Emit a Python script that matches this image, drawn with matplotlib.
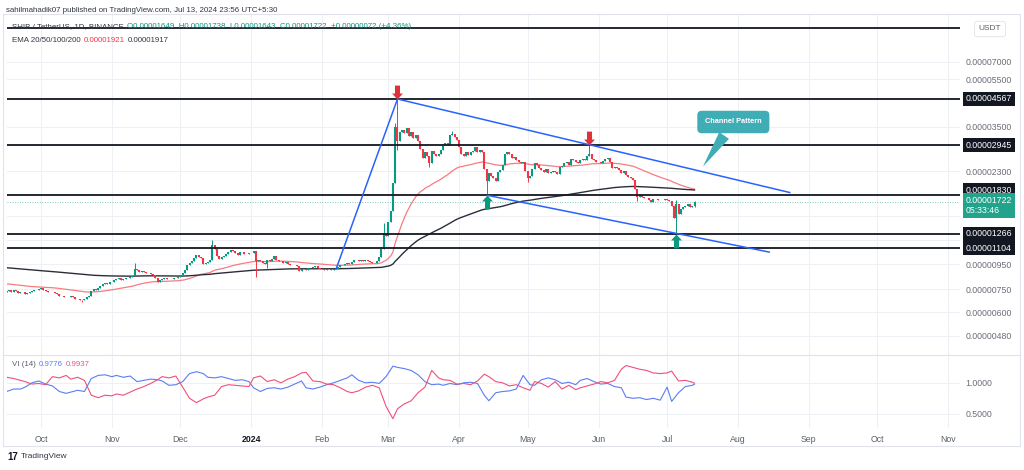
import numpy as np
import pandas as pd
import matplotlib
matplotlib.use("Agg")
import matplotlib.pyplot as plt
import matplotlib.dates as mdates
from matplotlib import transforms
from matplotlib.patches import Rectangle
from matplotlib.lines import Line2D
from matplotlib.path import Path
from matplotlib.text import Annotation
from matplotlib.ticker import FixedLocator, FixedFormatter, NullLocator

plt.rcParams['font.family'] = ['Liberation Sans', 'DejaVu Sans']

# ---------------- data (prices in millionths of USDT) ----------------
start_date = "2023-09-16"
first_open = 7.30
close_sep = [7.35, 7.40, 7.30, 7.42, 7.38, 7.25, 7.30, 7.28, 7.18, 7.25, 7.30, 7.38, 7.45, 7.42, 7.50]
close_oct = [7.55, 7.45, 7.35, 7.30, 7.28, 7.32, 7.25, 7.15, 7.05, 7.00, 6.95, 6.92, 6.98, 7.00, 6.93, 6.85,
             6.82, 6.78, 6.75, 6.85, 6.95, 7.05, 7.35, 7.50, 7.45, 7.60, 7.75, 7.85, 7.95, 7.90, 8.00]
close_nov = [8.05, 8.15, 8.25, 8.30, 8.20, 8.28, 8.35, 8.30, 8.40, 8.45, 9.10, 9.00, 8.85, 8.90, 8.80, 8.75,
             8.70, 8.65, 8.55, 8.30, 8.00, 8.20, 8.25, 8.30, 8.28, 8.22, 8.25, 8.30, 8.35, 8.40]
close_dec = [8.60, 8.75, 9.00, 9.40, 9.60, 9.75, 10.10, 10.40, 10.20, 10.05, 9.50, 9.60, 9.70, 9.85, 11.40, 11.00,
             10.30, 9.95, 10.20, 10.30, 10.50, 10.70, 10.85, 10.75, 10.60, 10.40, 10.70, 10.65, 10.50, 10.45, 10.55]
close_jan = [10.60, 10.75, 9.75, 9.85, 9.75, 9.60, 9.50, 9.90, 9.80, 9.95, 10.25, 9.90, 9.75, 9.80, 9.65, 9.70,
             9.55, 9.40, 9.45, 9.45, 9.35, 8.90, 9.05, 9.10, 9.00, 9.15, 9.20, 9.25, 9.30, 9.20, 9.10]
close_feb = [9.05, 9.00, 9.10, 9.05, 9.00, 9.05, 9.10, 9.25, 9.40, 9.45, 9.50, 9.60, 9.55, 9.70, 9.85, 9.90,
             9.80, 9.85, 9.75, 9.90, 9.80, 9.70, 9.65, 9.60, 9.75, 10.20, 11.00, 12.80, 12.40]
close_mar = [14.20, 15.80, 20.50, 35.00, 30.50, 33.50, 34.00, 33.00, 34.80, 32.00, 33.50, 31.50, 32.50, 30.50,
             28.50, 26.00, 27.50, 26.50, 24.80, 27.80, 27.20, 26.50, 27.00, 28.00, 29.50, 30.00, 29.50, 32.50,
             32.80, 31.80, 31.00]
close_apr = [29.00, 27.00, 26.50, 27.50, 26.80, 27.50, 27.80, 28.80, 27.50, 28.00, 27.50, 23.50, 21.00, 22.50,
             22.00, 21.50, 21.00, 22.80, 23.20, 24.50, 27.00, 27.50, 27.00, 26.00, 26.30, 25.50, 25.00, 24.80,
             25.00, 23.00]
close_may = [21.50, 22.00, 23.50, 24.80, 24.50, 23.60, 23.20, 22.80, 23.50, 22.60, 22.90, 23.00, 22.80, 22.30,
             24.00, 24.20, 24.80, 25.00, 24.40, 25.80, 25.50, 25.00, 24.80, 25.50, 25.80, 25.60, 26.50, 27.20,
             25.80, 25.50, 25.00]
close_jun = [25.00, 24.90, 25.40, 25.80, 26.00, 25.20, 23.80, 24.00, 23.80, 23.30, 22.50, 23.00, 22.20, 21.80,
             21.50, 21.20, 19.50, 18.00, 18.30, 18.00, 17.90, 17.80, 17.50, 17.20, 17.70, 17.60, 17.50, 17.40,
             17.50, 17.60]
close_jul = [17.40, 17.30, 16.50, 14.80, 16.80, 15.30, 16.00, 16.30, 16.50, 16.80, 16.40, 16.50, 17.22]
last_open = 16.49

wick_high = {"2023-11-11": 9.60, "2023-12-15": 12.00, "2024-02-28": 14.00, "2024-03-04": 36.20,
             "2024-03-05": 45.67, "2024-03-29": 33.60, "2024-05-28": 29.60, "2024-07-05": 17.40,
             "2024-07-13": 17.38}
wick_low = {"2023-10-19": 6.65, "2024-01-03": 8.40, "2024-01-08": 9.20, "2024-03-05": 28.00,
            "2024-03-19": 24.00, "2024-04-13": 18.30, "2024-05-01": 20.80, "2024-06-18": 17.30,
            "2024-07-05": 12.66, "2024-07-13": 16.43}

# EMA seeds (value of each EMA the day before the first candle)
ema50_seed, ema200_seed = 7.90, 9.20

# horizontal levels (millionths)
level_top = 89.7
levels = [45.67, 29.45, 18.30, 12.66, 11.04]
price_ticks = [65.0, 55.0, 35.0, 23.0, 15.0, 12.0, 9.5, 7.5, 6.0, 4.8]
price_tick_labels = ["0.00007000", "0.00005500", "0.00003500", "0.00002300", "", "",
                     "0.00000950", "0.00000750", "0.00000600", "0.00000480"]

# channel / trend lines: (date, price)
rise_line = [("2024-02-07", 9.00), ("2024-03-05", 45.67)]
upper_channel = [("2024-03-05", 45.67), ("2024-08-24", 18.74)]
lower_channel = [("2024-04-13", 18.30), ("2024-08-15", 10.64)]

# arrows
down_arrows = ["2024-03-05", "2024-05-28"]
up_arrows = ["2024-04-13", "2024-07-05"]

# Vortex indicator samples (day index from first candle)
vi_idx = [0, 3, 6, 8, 11, 14, 17, 20, 23, 26,
          28, 31, 34, 37, 40, 43, 46, 48, 51, 54,
          57, 60, 63, 66, 68, 71, 74, 77, 80, 83,
          86, 88, 91, 94, 97, 100, 103, 106, 108, 111,
          114, 117, 120, 123, 126, 129, 131, 134, 137, 140,
          143, 146, 149, 151, 154, 157, 160, 163, 166, 169,
          171, 174, 177, 180, 183, 186, 189, 191, 194, 197,
          200, 203, 206, 209, 211, 214, 217, 220, 223, 226,
          229, 231, 234, 237, 240, 243, 246, 249, 251, 254,
          257, 260, 263, 266, 269, 271, 274, 277, 280, 283,
          286, 289, 291, 294, 297, 300, 301]
vi_plus = [0.86, 0.90, 0.90, 0.93, 1.00, 1.03, 0.98, 0.95, 0.86, 0.83,
           0.85, 0.88, 0.86, 1.07, 1.12, 1.13, 1.10, 1.12, 1.09, 1.11,
           1.02, 1.04, 1.06, 1.05, 1.03, 0.96, 0.97, 1.02, 1.15, 1.18,
           1.15, 1.09, 1.08, 1.10, 1.07, 1.04, 1.05, 1.02, 0.92, 0.86,
           0.91, 0.92, 0.90, 0.93, 0.98, 1.03, 0.92, 0.90, 0.93, 0.97,
           1.00, 1.04, 1.08, 1.13, 1.04, 1.00, 1.01, 0.99, 1.10, 1.27,
           1.25, 1.23, 1.20, 1.13, 1.02, 0.97, 0.98, 0.96, 0.99, 0.97,
           1.00, 1.01, 0.99, 0.80, 0.71, 0.84, 0.86, 0.87, 0.90, 1.12,
           0.97, 0.96, 1.05, 1.08, 1.05, 0.99, 1.01, 0.97, 1.04, 1.07,
           1.02, 0.98, 0.99, 0.94, 0.92, 0.77, 0.75, 0.76, 0.73, 0.75,
           0.72, 0.93, 0.70, 0.84, 0.94, 0.96, 0.9776]
vi_minus = [1.09, 1.07, 1.04, 1.02, 0.98, 0.99, 0.97, 1.10, 1.08, 1.12,
            1.06, 1.09, 1.04, 0.80, 0.76, 0.80, 0.79, 0.82, 0.80, 0.85,
            0.90, 0.94, 0.99, 1.05, 1.10, 1.08, 1.11, 0.93, 0.75, 0.68,
            0.74, 0.77, 0.80, 0.94, 0.97, 0.96, 0.95, 0.94, 1.08, 1.11,
            1.02, 1.05, 1.00, 1.06, 1.10, 1.16, 1.17, 1.03, 1.02, 0.98,
            0.97, 0.92, 0.86, 0.84, 0.87, 0.93, 0.96, 0.92, 0.62, 0.42,
            0.58, 0.66, 0.71, 0.84, 0.93, 1.20, 1.08, 1.05, 1.04, 0.98,
            0.99, 0.97, 1.03, 1.14, 1.10, 1.02, 1.00, 0.95, 0.97, 0.92,
            0.88, 1.02, 0.99, 0.93, 1.02, 0.90, 0.96, 0.89, 0.92, 0.95,
            0.98, 1.02, 1.00, 1.04, 1.22, 1.28, 1.25, 1.22, 1.20, 1.16,
            1.15, 1.16, 1.19, 1.03, 1.04, 1.01, 0.9937]

month_ticks = pd.date_range("2023-10-01", "2024-11-01", freq="MS")
month_labels = ["Oct", "Nov", "Dec", "2024", "Feb", "Mar", "Apr", "May", "Jun", "Jul",
                "Aug", "Sep", "Oct", "Nov"]

# ---------------- build series ----------------
U = 1e-6
closes = np.array(close_sep + close_oct + close_nov + close_dec + close_jan + close_feb +
                  close_mar + close_apr + close_may + close_jun + close_jul) * U
dates = pd.date_range(start_date, periods=len(closes), freq="D")
opens = np.r_[first_open * U, closes[:-1]]
opens[-1] = last_open * U
highs = np.maximum(opens, closes)
lows = np.minimum(opens, closes)
for k, v in wick_high.items():
    highs[dates.get_loc(pd.Timestamp(k))] = v * U
for k, v in wick_low.items():
    lows[dates.get_loc(pd.Timestamp(k))] = v * U


def ema(vals, span, seed):
    a = 2.0 / (span + 1)
    out, e = [], seed
    for v in vals:
        e = a * v + (1 - a) * e
        out.append(e)
    return np.array(out)


ema50 = ema(closes, 50, ema50_seed * U)
ema200 = ema(closes, 200, ema200_seed * U)

# ---------------- figure ----------------
W, H = 1024, 470
fig = plt.figure(figsize=(W / 100, H / 100), dpi=100)
fig.patch.set_facecolor("white")


def fx(x):
    return x / W


def fy(y):
    return 1 - y / H


ax = fig.add_axes([fx(7), fy(355), fx(960) - fx(7), fy(15) - fy(355)])
axv = fig.add_axes([fx(7), fy(428), fx(960) - fx(7), fy(355) - fy(428)], sharex=ax)

GREEN = "#089981"
RED = "#f23645"
BLUE = "#2962ff"
GRID = "#eef0f5"
DARK = "#131722"
TXT = "#333640"

ref = pd.Timestamp("2023-10-01")
ax.set_xlim(mdates.date2num(ref - pd.Timedelta(days=14.9)), mdates.date2num(ref + pd.Timedelta(days=402.2)))
ax.set_yscale("log")
ax.set_ylim(4.005e-6, 1.015e-4)

for a in (ax, axv):
    for s in a.spines.values():
        s.set_visible(False)
    a.set_facecolor("white")
    a.set_xticks(mdates.date2num(month_ticks))
    a.grid(True, axis="both", color=GRID, lw=0.8)
    a.set_axisbelow(True)

ax.tick_params(axis="x", labelbottom=False, length=0)
ax.yaxis.set_major_locator(FixedLocator([v * U for v in price_ticks]))
ax.yaxis.set_major_formatter(FixedFormatter(price_tick_labels))
ax.yaxis.set_minor_locator(NullLocator())
ax.yaxis.tick_right()
ax.tick_params(axis="y", length=0, pad=4, labelsize=6.3, labelcolor="#6a6d78")

# candles
dn = mdates.date2num(dates)
cols = np.where(closes >= opens, GREEN, RED)
ax.vlines(dn, lows, highs, colors=cols, lw=0.7, zorder=3)
ax.vlines(dn, np.minimum(opens, closes), np.maximum(opens, closes), colors=cols, lw=1.5, zorder=3)

# EMAs
ax.plot(dn, ema50, color="#f77c80", lw=0.9, zorder=2.5)
ax.plot(dn, ema200, color="#2a2e39", lw=1.0, zorder=2.5)

# horizontal levels
ax.axhline(level_top * U, color=DARK, lw=1.3, zorder=4)
for lv in levels:
    ax.axhline(lv * U, color=DARK, lw=1.3, zorder=4)

# current price dotted line
ax.axhline(closes[-1], color=GREEN, lw=0.6, ls=(0, (1, 2)), alpha=0.7, zorder=2)


def seg(pts):
    return [mdates.date2num(pd.Timestamp(p[0])) for p in pts], [p[1] * U for p in pts]


for pts in (rise_line, upper_channel, lower_channel):
    xs, ys = seg(pts)
    ax.plot(xs, ys, color=BLUE, lw=1.1, zorder=5, solid_capstyle="butt")

# arrows
dverts = [(0, 0), (0.39, 0.43), (0.18, 0.43), (0.18, 1.0), (-0.18, 1.0), (-0.18, 0.43), (-0.39, 0.43), (0, 0)]
down_path = Path(dverts, closed=True)
up_path = Path([(x, -y) for x, y in dverts], closed=True)
for d in down_arrows:
    i = dates.get_loc(pd.Timestamp(d))
    ax.plot([dn[i]], [highs[i]], marker=down_path, ms=20, color="#e0303a", mec="none", ls="none",
            zorder=6, clip_on=False)
for d in up_arrows:
    i = dates.get_loc(pd.Timestamp(d))
    ax.plot([dn[i]], [lows[i]], marker=up_path, ms=20, color=GREEN, mec="none", ls="none",
            zorder=6, clip_on=False)

# callout
ax.annotate("Channel Pattern", xy=(mdates.date2num(pd.Timestamp("2024-07-16")), 23.5 * U),
            xytext=(mdates.date2num(pd.Timestamp("2024-07-30")), 36.7 * U), textcoords="data",
            ha="center", va="center", color="white", fontsize=5.3, fontweight="bold", zorder=7,
            bbox=dict(boxstyle="round,pad=1.05,rounding_size=0.6", fc="#3fadb6", ec="none"),
            arrowprops=dict(arrowstyle="wedge,tail_width=1.6,shrink_factor=0.5", fc="#3fadb6",
                            ec="none"))

# ---------------- VI pane ----------------
vd = mdates.date2num(dates[vi_idx])
axv.plot(vd, vi_plus, color="#5b7df5", lw=0.8)
axv.plot(vd, vi_minus, color="#f0507a", lw=0.8)
axv.set_ylim(0.27, 1.45)
axv.yaxis.set_major_locator(FixedLocator([1.0, 0.5]))
axv.yaxis.set_major_formatter(FixedFormatter(["1.0000", "0.5000"]))
axv.yaxis.tick_right()
axv.tick_params(axis="y", length=0, pad=4, labelsize=6.3, labelcolor="#6a6d78")
axv.xaxis.set_major_formatter(FixedFormatter(month_labels))
axv.tick_params(axis="x", length=0, pad=5, labelsize=6.3, labelcolor="#5d606b")
for t in axv.get_xticklabels():
    if t.get_text() == "2024":
        t.set_color(DARK)
        t.set_fontweight("bold")

# ---------------- right-side labels ----------------
blend = transforms.blended_transform_factory(fig.transFigure, ax.transData)
label_dy = {18.30: 5}
for lv in levels:
    tr = transforms.offset_copy(blend, fig=fig, x=0, y=label_dy.get(lv, 0), units="dots")
    fig.text(fx(966), lv * U, f"{lv * U:.8f}", transform=tr, color="white", fontsize=6.3,
             va="center", ha="left", bbox=dict(boxstyle="square,pad=0.3", fc=DARK, ec="none"), zorder=10)
trc = transforms.offset_copy(blend, fig=fig, x=0, y=-4, units="dots")
fig.text(fx(966), closes[-1], f"{closes[-1]:.8f}\n05:33:46", transform=trc, color="white", fontsize=6.3,
         va="center", ha="left", linespacing=1.15,
         bbox=dict(boxstyle="square,pad=0.3", fc="#22a38c", ec="none"), zorder=10)

fig.text(fx(990), fy(29), "USDT", color="#5d606b", fontsize=6.0, ha="center", va="center",
         bbox=dict(boxstyle="round,pad=0.5,rounding_size=0.3", fc="white", ec="#e0e3eb", lw=0.6))


# ---------------- header texts ----------------
def chain(parts, x, y, fs=5.7, gap=3):
    prev = fig.text(fx(x), fy(y), parts[0][0], color=parts[0][1], fontsize=fs, va="center", ha="left")
    for s, c in parts[1:]:
        an = Annotation(s, xy=(1, 0.5), xycoords=prev, xytext=(gap, 0), textcoords="offset pixels",
                        color=c, fontsize=fs, va="center", ha="left")
        fig.add_artist(an)
        prev = an


chain([("sahilmahadik07 published on TradingView.com, Jul 13, 2024 23:56 UTC+5:30", TXT)], 6, 10)
chain([("SHIB / TetherUS, 1D, BINANCE", TXT),
       ("O0.00001649  H0.00001738  L0.00001643  C0.00001722  +0.00000072 (+4.36%)", GREEN)], 12, 27)
chain([("EMA 20/50/100/200", TXT), ("0.00001921", RED), ("0.00001917", TXT)], 12, 41)
chain([("VI (14)", "#5d606b"), ("0.9776", "#5b7df5"), ("0.9937", "#f0507a")], 12, 365)

fig.text(fx(7), fy(457), "17", color=DARK, fontsize=7, fontweight="bold", va="center", ha="left")
fig.text(fx(21), fy(457), "TradingView", color=TXT, fontsize=6.0, va="center", ha="left")

# frame
fig.add_artist(Rectangle((fx(3), fy(446)), fx(1020) - fx(3), fy(14) - fy(446), transform=fig.transFigure,
                         fill=False, ec="#e0e3eb", lw=0.8))
fig.add_artist(Line2D([fx(3), fx(1020)], [fy(355), fy(355)], transform=fig.transFigure,
                      color="#e0e3eb", lw=0.8))

fig.savefig("out.png", dpi=100, facecolor="white")
